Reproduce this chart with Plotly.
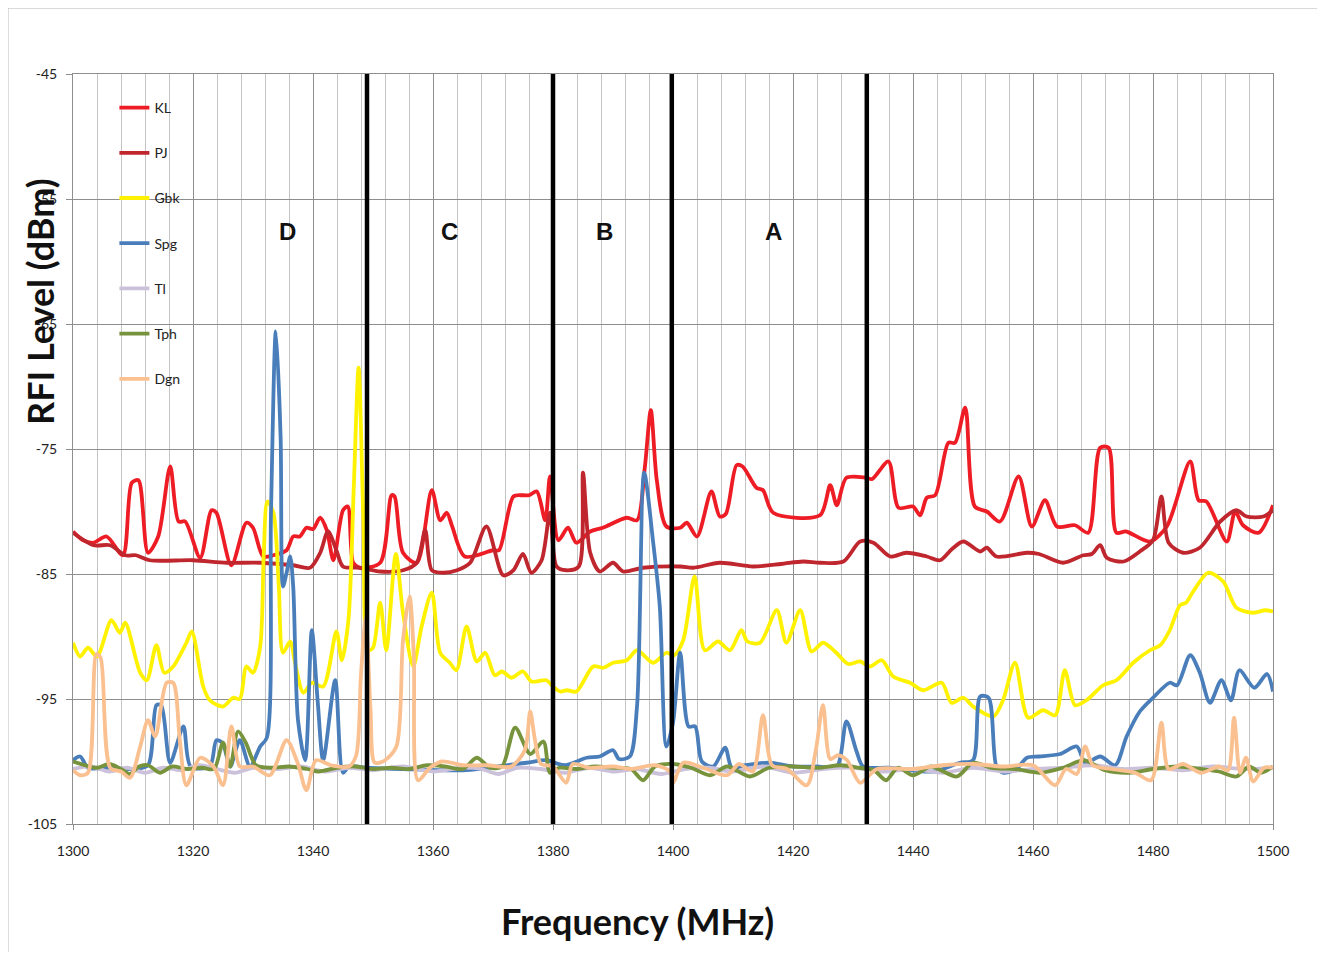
import plotly.graph_objects as go

# ---------------- data ----------------
kl_freq = [1300, 1301.7, 1303.4, 1305.6, 1308.3, 1309.8, 1310.9, 1312.5, 1314.2, 1316.2,
           1317.6, 1318.7, 1321.2, 1323.1, 1323.9, 1326.4, 1328.9, 1330, 1331.7, 1333.4,
           1335.6, 1336.7, 1337.8, 1338.9, 1340, 1341.2, 1342.3, 1343.4, 1345, 1345.8,
           1346.7, 1347.8, 1351.2, 1353.1, 1353.6, 1355, 1357.3, 1359.8, 1361.2, 1362.3,
           1363.2, 1365.3, 1370, 1371, 1373.4, 1375, 1376, 1377.3, 1378.7, 1379.5,
           1380.9, 1382.5, 1383.9, 1386.2, 1388.3, 1392.3, 1394, 1395.3, 1396.3, 1397.3,
           1398.9, 1401.2, 1402.3, 1404, 1406.4, 1407.8, 1408.8, 1410.6, 1411.6, 1413.9,
           1415, 1416.7, 1424.5, 1426.2, 1427.3, 1428.9, 1432.2, 1433.2, 1435.9, 1437.6,
           1440, 1441.2, 1442.3, 1443.7, 1445.9, 1447, 1448.7, 1450.3, 1452.3, 1454.5,
           1457.6, 1459.8, 1462, 1464, 1467, 1469.2, 1471.2, 1472.6, 1473.9, 1475.5,
           1479.5, 1482.3, 1486.2, 1487.6, 1488.9, 1492.3, 1493.7, 1495, 1497.6, 1500]
kl_dbm = [-81.6, -82.3, -82.5, -82.0, -83.5, -77.7, -77.5, -83.3, -82.0, -76.4,
          -80.8, -80.8, -83.7, -79.9, -80.1, -84.3, -80.9, -81.3, -83.6, -83.5,
          -83.1, -82.0, -82.0, -81.3, -81.4, -80.5, -81.5, -83.9, -79.9, -79.6,
          -84.1, -84.5, -84.1, -78.7, -78.8, -83.3, -84.1, -78.3, -80.7, -80.1,
          -81.2, -83.6, -83.1, -83.1, -78.8, -78.7, -78.7, -78.4, -80.7, -77.2,
          -82.3, -81.3, -82.5, -81.6, -81.3, -80.5, -80.7, -76.5, -71.9, -77.5,
          -81.2, -81.3, -80.9, -82.0, -78.4, -80.4, -80.2, -76.3, -76.4, -78.1,
          -78.3, -80.1, -80.3, -77.9, -79.5, -77.3, -77.3, -77.4, -76.0, -79.7,
          -79.6, -80.3, -78.9, -78.7, -74.5, -74.5, -71.7, -79.6, -80.0, -80.8,
          -77.2, -81.2, -79.1, -81.2, -81.1, -81.7, -74.9, -74.9, -81.7, -81.6,
          -82.4, -81.2, -76.0, -79.1, -79.2, -82.4, -80.0, -81.1, -81.7, -79.5]

pj_freq = [1300, 1303.4, 1306.2, 1308.7, 1310.5, 1312.8, 1320, 1325.6, 1331.2, 1336.7,
           1339.5, 1341.2, 1342.5, 1343.9, 1345, 1347.8, 1351.2, 1355, 1357.3, 1358.7,
           1359.8, 1361.7, 1364, 1366.2, 1368.9, 1371.7, 1373.4, 1375, 1376.4, 1378.1,
           1379.5, 1380.6, 1382.2, 1384.3, 1385, 1386.2, 1387.8, 1390, 1391.7, 1395,
           1401.2, 1403.4, 1407.8, 1413.3, 1418, 1421.7, 1424.5, 1428.4, 1431.2, 1433.4,
           1436.2, 1438.9, 1442.3, 1444.5, 1446.5, 1448.4, 1451.2, 1452.3, 1453.9, 1459,
           1461, 1465, 1468.4, 1469.8, 1471.2, 1472.3, 1475.1, 1477.8, 1480, 1481.4,
           1482.6, 1485, 1487.8, 1491.2, 1493.9, 1495.6, 1498.4, 1500]
pj_dbm = [-81.7, -82.7, -82.7, -83.5, -83.5, -83.9, -83.9, -84.1, -84.1, -84.3,
          -84.5, -83.3, -81.6, -83.1, -84.4, -84.5, -84.8, -84.7, -84.1, -81.5,
          -84.7, -84.9, -84.7, -84.1, -81.2, -85.1, -84.7, -83.4, -84.9, -83.9,
          -80.1, -84.4, -84.7, -84.4, -76.9, -83.3, -84.8, -84.1, -84.8, -84.5,
          -84.4, -84.5, -84.1, -84.4, -84.2, -84.0, -84.1, -84.0, -82.4, -82.5,
          -83.6, -83.3, -83.6, -83.9, -83.0, -82.4, -83.2, -82.9, -83.6, -83.3,
          -83.4, -84.1, -83.5, -83.4, -82.7, -83.7, -84.0, -83.2, -82.3, -78.8,
          -82.5, -83.3, -82.9, -80.8, -79.9, -80.4, -80.4, -79.9]

gbk_freq = [1300, 1301.2, 1302.5, 1304, 1306.4, 1307.8, 1308.7, 1311.2, 1312.3, 1313.9,
            1315.2, 1316.7, 1318.9, 1319.8, 1321.7, 1322.8, 1325, 1326.7, 1327.8, 1328.9,
            1330, 1331.2, 1331.8, 1332.4, 1333.4, 1334.3, 1335, 1336.2, 1337, 1338.4,
            1339.8, 1341.7, 1343.9, 1344.8, 1345.9, 1346.8, 1347.6, 1348.4, 1349.2, 1350,
            1351.2, 1352.2, 1353.8, 1355, 1356.7, 1358.1, 1359.8, 1361.2, 1362.8, 1363.9,
            1365.6, 1367.3, 1368.7, 1370.3, 1371.5, 1373.1, 1375, 1376.4, 1378.9, 1380,
            1381.2, 1382.3, 1383.9, 1386.7, 1388.4, 1390, 1392.3, 1394, 1396.7, 1398.9,
            1400.2, 1401.7, 1403.6, 1405.3, 1407.5, 1409.5, 1411.4, 1412.4, 1414.5, 1417.3,
            1418.9, 1421.2, 1423.1, 1425, 1427, 1429.2, 1431.2, 1432.8, 1434.8, 1436.7,
            1439.5, 1441.7, 1444.8, 1446.4, 1448.4, 1450, 1453.4, 1455, 1457, 1459.2,
            1461.7, 1463.7, 1465.3, 1467, 1468.9, 1471.7, 1473.9, 1476.7, 1479.5, 1481.2,
            1482.8, 1484.5, 1485.5, 1486.7, 1489.2, 1491.7, 1493.9, 1496.7, 1498.7, 1500]
gbk_dbm = [-90.5, -91.6, -90.9, -91.6, -88.7, -89.7, -88.9, -92.9, -93.5, -90.7,
           -92.9, -92.4, -90.5, -89.6, -94.0, -95.1, -95.6, -94.9, -95.0, -92.4,
           -92.9, -90.8, -83.3, -79.2, -80.1, -86.0, -91.3, -90.4, -92.1, -94.5,
           -93.7, -94.0, -89.6, -91.9, -88.7, -78.0, -68.5, -80.7, -91.1, -90.9,
           -87.3, -91.1, -83.4, -88.1, -92.4, -89.2, -86.5, -91.3, -92.1, -92.7,
           -89.2, -92.0, -91.3, -93.1, -92.8, -93.3, -92.8, -93.6, -93.5, -94.0,
           -94.4, -94.3, -94.4, -92.4, -92.5, -92.1, -91.9, -91.1, -92.1, -91.3,
           -91.5, -90.3, -85.2, -91.1, -90.4, -91.1, -89.5, -90.4, -90.5, -87.9,
           -90.5, -87.9, -91.2, -90.5, -91.2, -92.2, -92.0, -92.4, -91.9, -93.2,
           -93.7, -94.3, -93.7, -95.3, -94.9, -95.6, -96.4, -95.1, -92.1, -96.5,
           -95.9, -96.3, -92.7, -95.5, -95.1, -93.9, -93.5, -92.1, -91.1, -90.7,
           -89.5, -87.5, -87.3, -86.4, -84.9, -85.6, -87.7, -88.1, -87.9, -88.0]

spg_freq = [1300, 1301.2, 1302.5, 1306, 1310, 1312.5, 1313.9, 1314.7, 1316.2, 1318.4,
            1319.6, 1322.8, 1323.9, 1324.9, 1326.2, 1327.8, 1329.5, 1331.2, 1332.3, 1333.0,
            1333.8, 1334.6, 1335.0, 1335.6, 1336.2, 1336.7, 1337.5, 1338.7, 1339.8, 1340.8,
            1341.7, 1343.7, 1345, 1346, 1348.9, 1355, 1365, 1375.6, 1378.9, 1382,
            1385.6, 1387.8, 1390, 1391, 1392.8, 1394, 1395.2, 1396.7, 1397.8, 1398.9,
            1400, 1401.2, 1402.6, 1403.7, 1404.8, 1406.7, 1408.7, 1409.8, 1412, 1416,
            1420, 1424, 1427.3, 1428.9, 1430.6, 1431.7, 1436, 1443.4, 1447.8, 1450,
            1451.2, 1452.6, 1453.9, 1455, 1457.2, 1459, 1461, 1464.5, 1467.3, 1468.7,
            1471.2, 1473.7, 1475.6, 1477.8, 1480, 1482.8, 1484, 1486.2, 1487.8, 1489.5,
            1491.4, 1493, 1494.4, 1496.9, 1499, 1500]
spg_dbm = [-99.9, -99.6, -100.5, -100.5, -100.6, -100.3, -95.5, -95.5, -100.1, -97.2,
           -100.4, -100.4, -98.3, -98.5, -100.4, -98.3, -100.4, -98.8, -98.1, -80.0,
           -65.6, -74.0, -86.0, -84.9, -83.6, -86.0, -96.7, -99.9, -89.5, -95.3,
           -99.9, -93.5, -100.9, -100.4, -100.5, -100.6, -100.7, -100.1, -99.9, -100.3,
           -99.7, -99.6, -99.1, -99.8, -99.6, -95.6, -76.9, -82.5, -87.6, -98.8,
           -96.9, -91.3, -97.2, -97.2, -100.0, -100.4, -98.9, -100.5, -100.3, -100.1,
           -100.4, -100.4, -100.4, -96.8, -99.2, -100.4, -100.5, -100.8, -100.1, -99.9,
           -94.8, -94.9, -100.4, -100.9, -100.6, -99.7, -99.6, -99.4, -98.8, -100.1,
           -99.6, -100.3, -98.0, -96.0, -94.9, -93.7, -93.9, -91.5, -92.9, -95.3,
           -93.5, -95.1, -92.7, -94.1, -93.0, -94.4]

tl_freq = [1300, 1303, 1306, 1309, 1312, 1315, 1318, 1321, 1324, 1327,
           1330, 1334, 1338, 1342, 1346, 1350, 1355, 1360, 1365, 1368,
           1371, 1374, 1378, 1382, 1386, 1390, 1394, 1398, 1402, 1406,
           1410, 1415, 1420, 1425, 1430, 1435, 1440, 1445, 1450, 1455,
           1460, 1465, 1470, 1475, 1480, 1485, 1490, 1495, 1500]
tl_dbm = [-100.6, -100.4, -100.8, -100.5, -100.9, -100.5, -100.7, -100.3, -100.6, -100.9,
          -100.5, -100.6, -100.4, -100.8, -100.5, -100.7, -100.4, -100.8, -100.5, -100.6,
          -101.0, -100.5, -100.6, -100.9, -100.5, -100.8, -100.6, -101.0, -100.6, -100.5,
          -100.8, -100.4, -100.9, -100.6, -100.5, -100.8, -100.6, -100.9, -100.5, -100.8,
          -100.6, -100.5, -100.3, -100.6, -100.5, -100.7, -100.4, -100.6, -100.5]

tph_freq = [1300, 1302, 1304, 1306, 1308, 1309.5, 1311, 1312.5, 1314.5, 1316.5,
            1319, 1321.5, 1323.5, 1325, 1326.2, 1327.5, 1328.8, 1330.5, 1333, 1336,
            1339, 1341, 1344, 1347, 1350, 1353, 1356, 1359, 1362, 1365,
            1367.3, 1369.5, 1371.5, 1373.7, 1376.2, 1378.4, 1379.5, 1381, 1384, 1387,
            1390, 1393, 1395, 1397, 1400, 1403, 1406.2, 1409, 1412.8, 1416,
            1420, 1424, 1428, 1431, 1433.5, 1435.5, 1437.5, 1440, 1443, 1447.3,
            1450, 1453, 1457, 1461.2, 1465, 1468.5, 1472, 1476, 1480, 1484,
            1488, 1491, 1493.9, 1496, 1498, 1500]
tph_dbm = [-100.0, -100.3, -100.5, -100.2, -100.6, -101.0, -100.4, -100.3, -100.9, -100.4,
           -100.6, -100.5, -100.6, -98.5, -100.4, -97.6, -98.5, -100.3, -100.5, -100.4,
           -100.6, -100.8, -100.5, -100.4, -100.6, -100.5, -100.6, -100.3, -100.4, -100.6,
           -99.7, -100.5, -100.4, -97.3, -99.4, -98.4, -100.9, -100.5, -100.6, -100.4,
           -100.5, -100.6, -101.5, -100.4, -100.2, -100.5, -101.1, -100.4, -101.2, -100.5,
           -100.4, -100.5, -100.3, -100.5, -100.7, -101.5, -100.5, -101.1, -100.4, -101.2,
           -100.1, -100.5, -100.6, -100.9, -100.5, -99.9, -100.7, -100.9, -100.6, -100.4,
           -100.6, -100.8, -101.2, -100.4, -100.9, -100.4]

dgn_freq = [1300, 1301.2, 1302.5, 1303.9, 1304.6, 1306.2, 1308, 1309.5, 1311.2, 1312.5,
            1313.7, 1315.6, 1316.7, 1317.8, 1318.9, 1321.2, 1323.4, 1325, 1326.4, 1327.8,
            1330, 1332.8, 1335.6, 1337.5, 1338.9, 1340.5, 1343, 1346, 1347.2, 1348,
            1348.8, 1349.6, 1350.3, 1352, 1353.9, 1355, 1356.1, 1356.8, 1357.5, 1359.5,
            1361.5, 1365, 1369, 1373, 1375.3, 1376.2, 1377, 1378, 1380, 1382.2,
            1383.3, 1386, 1390, 1393, 1397, 1399.5, 1400, 1401.7, 1405, 1409,
            1411, 1413.3, 1415, 1416.5, 1419, 1422.3, 1423.8, 1425, 1426.2, 1427.5,
            1429, 1431.2, 1434, 1440, 1445, 1450, 1455, 1460, 1463.7, 1465.5,
            1467.3, 1468.7, 1470, 1473, 1477, 1479.7, 1481.4, 1482.6, 1485, 1488,
            1491, 1492.5, 1493.5, 1494.5, 1495.5, 1496.7, 1498.5, 1500]
dgn_dbm = [-100.7, -101.1, -100.9, -91.4, -91.7, -100.5, -100.8, -101.3, -98.8, -96.7,
           -98.0, -93.7, -93.7, -98.3, -101.9, -99.7, -100.4, -101.9, -97.2, -100.4,
           -100.4, -101.1, -98.3, -100.2, -102.3, -99.9, -100.3, -100.4, -99.5, -93.0,
           -88.5, -96.0, -100.1, -99.9, -98.8, -90.3, -86.8, -91.5, -101.5, -100.5,
           -100.0, -100.3, -100.3, -100.4, -99.1, -96.0, -98.3, -100.2, -100.4, -101.7,
           -100.2, -100.5, -100.4, -100.6, -100.3, -100.8, -101.7, -100.1, -100.5, -101.1,
           -100.2, -100.8, -96.3, -100.3, -100.6, -101.9, -99.1, -95.5, -99.8, -99.5,
           -99.9, -101.7, -100.6, -100.6, -100.3, -100.2, -100.4, -100.3, -101.9, -100.6,
           -101.0, -98.8, -100.3, -100.6, -100.9, -101.5, -96.9, -100.6, -100.2, -100.9,
           -100.4, -100.7, -96.5, -100.9, -99.7, -101.6, -100.5, -100.5]

series_names = ["KL", "PJ", "Gbk", "Spg", "Tl", "Tph", "Dgn"]
series_freq = [kl_freq, pj_freq, gbk_freq, spg_freq, tl_freq, tph_freq, dgn_freq]
series_dbm = [kl_dbm, pj_dbm, gbk_dbm, spg_dbm, tl_dbm, tph_dbm, dgn_dbm]
series_colors = ["#EE1C25", "#C0262D", "#FFF200", "#4A7EBB", "#CCC1DA", "#77933C", "#FAC090"]

region_labels = ["D", "C", "B", "A"]
region_label_freq = [1335.7, 1362.7, 1388.5, 1416.8]
region_label_level = -57.6
boundary_freq = [1349.0, 1380.0, 1399.8, 1432.3]

x_ticks = [1300, 1320, 1340, 1360, 1380, 1400, 1420, 1440, 1460, 1480, 1500]
x_tick_labels = [str(v) for v in x_ticks]
y_ticks = [-105, -95, -85, -75, -65, -55, -45]
y_tick_labels = ["-105", "-95", "-85", "-75", "-65", "-55", "-45"]

# ---------------- figure ----------------
fig = go.Figure()
for name, fx, fy, col in zip(series_names, series_freq, series_dbm, series_colors):
    assert len(fx) == len(fy), name
    fig.add_trace(go.Scatter(
        x=fx, y=fy, name=name, mode="lines", legendgroup=name,
        line=dict(color=col, width=3.8, shape="spline", smoothing=0.8),
    ))

shapes = []
for bx in boundary_freq:
    shapes.append(dict(type="line", xref="x", yref="y", x0=bx, x1=bx,
                       y0=-105.2, y1=-44.85, line=dict(color="black", width=4.5),
                       layer="above"))
# outer chart border
shapes.append(dict(type="rect", xref="paper", yref="paper",
                   x0=-0.0542, x1=1.08, y0=-0.2, y1=1.088,
                   line=dict(color="#b4b4b4", width=1), layer="below"))

annotations = []
for lab, fx in zip(region_labels, region_label_freq):
    annotations.append(dict(x=fx, y=region_label_level, xref="x", yref="y",
                            text="<b>" + lab + "</b>", showarrow=False,
                            xanchor="center", yanchor="middle",
                            font=dict(family="Liberation Sans", size=24, color="#111111")))
annotations.append(dict(x=0.4708, y=-0.1293, xref="paper", yref="paper",
                        xanchor="center", yanchor="middle",
                        text="<b>Frequency (MHz)</b>", showarrow=False,
                        font=dict(family="Lato", size=36, color="#111111")))
annotations.append(dict(x=-0.0275, y=0.696, xref="paper", yref="paper",
                        xanchor="center", yanchor="middle",
                        text="<b>RFI Level (dBm)</b>", showarrow=False, textangle=-90,
                        font=dict(family="Lato", size=36, color="#111111")))

fig.update_layout(
    width=1309, height=944,
    margin=dict(l=65, r=44, t=66, b=128),
    paper_bgcolor="white", plot_bgcolor="white",
    font=dict(family="Lato", size=14, color="#222222"),
    showlegend=True,
    legend=dict(x=0.0345, y=0.976, xanchor="left", yanchor="top",
                bgcolor="rgba(0,0,0,0)", font=dict(size=14, color="#222222"),
                traceorder="grouped", tracegroupgap=24, itemwidth=30),
    shapes=shapes, annotations=annotations,
    xaxis=dict(range=[1300, 1500], tickvals=x_ticks, ticktext=x_tick_labels, showgrid=True,
               gridcolor="#8e8e8e", gridwidth=1,
               minor=dict(dtick=4, tick0=1300, showgrid=True, gridcolor="#c4c4c4", gridwidth=1),
               showline=True, mirror=True, linecolor="#8e8e8e", linewidth=1,
               ticks="outside", ticklen=5, tickcolor="#8e8e8e",
               ticklabelstandoff=9, zeroline=False),
    yaxis=dict(range=[-105, -45], tickvals=y_ticks, ticktext=y_tick_labels, showgrid=True,
               gridcolor="#8e8e8e", gridwidth=1,
               showline=True, mirror=True, linecolor="#8e8e8e", linewidth=1,
               ticks="outside", ticklen=6, tickcolor="#8e8e8e",
               ticklabelstandoff=6, zeroline=False),
)

fig.write_html("out.html")
